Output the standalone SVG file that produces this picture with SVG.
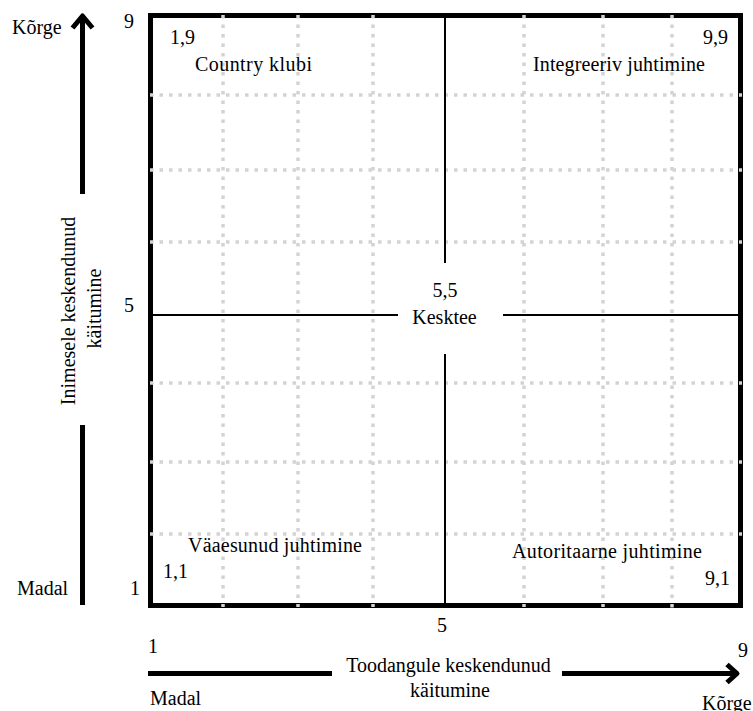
<svg xmlns="http://www.w3.org/2000/svg" width="753" height="711" viewBox="0 0 753 711">
  <style>
    text { font-family: "Liberation Serif", "Times New Roman", serif; font-size: 20px; fill: #000; }
    .grid { stroke: #d3d3d3; stroke-width: 3.5; stroke-dasharray: 3.5 6; fill: none; }
    .axis { stroke: #000; stroke-width: 2; fill: none; }
    .frame { stroke: #000; stroke-width: 5; fill: none; }
    .arrow { stroke: #000; stroke-width: 5; fill: none; stroke-linejoin: round; }
  </style>
  <rect width="753" height="711" fill="#fff"/>

  <g id="frame">
    <rect class="frame" x="150.5" y="15.5" width="590" height="590"/>
  </g>

  <g id="grid">
    <line class="grid" x1="223" y1="15" x2="223" y2="607"/>
    <line class="grid" x1="298" y1="15" x2="298" y2="607"/>
    <line class="grid" x1="373" y1="15" x2="373" y2="607"/>
    <line class="grid" x1="524" y1="15" x2="524" y2="607"/>
    <line class="grid" x1="603" y1="15" x2="603" y2="607"/>
    <line class="grid" x1="672" y1="15" x2="672" y2="610"/>
    <line class="grid" x1="150" y1="95" x2="742" y2="95"/>
    <line class="grid" x1="150" y1="170" x2="742" y2="170"/>
    <line class="grid" x1="150" y1="242" x2="742" y2="242"/>
    <line class="grid" x1="150" y1="383" x2="742" y2="383"/>
    <line class="grid" x1="150" y1="462" x2="742" y2="462"/>
    <line class="grid" x1="150" y1="534" x2="742" y2="534"/>
  </g>

  <g id="connectors">
    <line class="axis" x1="150" y1="315" x2="398" y2="315"/>
    <line class="axis" x1="503" y1="315" x2="740" y2="315"/>
    <line class="axis" x1="445" y1="15" x2="445" y2="263"/>
    <line class="axis" x1="445" y1="354" x2="445" y2="605"/>
    <path class="arrow" d="M82.5,194 V17"/>
    <path class="arrow" d="M72.5,28 L82.5,16 L92.5,28"/>
    <path class="arrow" d="M82.5,425 V605"/>
    <path class="arrow" d="M148,673.5 H332"/>
    <path class="arrow" d="M562,673.5 H735"/>
    <path class="arrow" d="M727,664.5 L737,673.5 L727,682.5"/>
  </g>

  <g id="node-1-9">
    <text x="170" y="44">1,9</text>
    <text x="195" y="71" textLength="117">Country klubi</text>
  </g>
  <g id="node-9-9">
    <text x="703" y="44">9,9</text>
    <text x="533" y="71" textLength="172">Integreeriv juhtimine</text>
  </g>
  <g id="node-5-5">
    <rect x="400" y="270" width="100" height="62" fill="#fff"/>
    <text x="445" y="297" text-anchor="middle">5,5</text>
    <text x="444.5" y="324" text-anchor="middle">Kesktee</text>
  </g>
  <g id="node-1-1">
    <text x="188" y="552" textLength="174">Väaesunud juhtimine</text>
    <text x="163" y="578">1,1</text>
  </g>
  <g id="node-9-1">
    <text x="512" y="558" textLength="190">Autoritaarne juhtimine</text>
    <text x="705" y="585">9,1</text>
  </g>

  <g id="y-axis-labels">
    <text x="12" y="34">Kõrge</text>
    <text x="124" y="28">9</text>
    <text x="124" y="312">5</text>
    <text x="130" y="595">1</text>
    <text x="17" y="595">Madal</text>
    <text transform="translate(75,311) rotate(-90)" text-anchor="middle">Inimesele keskendunud</text>
    <text transform="translate(101,308.5) rotate(-90)" text-anchor="middle">käitumine</text>
  </g>

  <g id="x-axis-labels">
    <text x="148" y="653">1</text>
    <text x="437" y="632">5</text>
    <text x="738" y="657">9</text>
    <text x="150" y="705">Madal</text>
    <text x="702" y="710">Kõrge</text>
    <text x="448.5" y="672" text-anchor="middle">Toodangule keskendunud</text>
    <text x="450" y="697" text-anchor="middle">käitumine</text>
  </g>
</svg>
